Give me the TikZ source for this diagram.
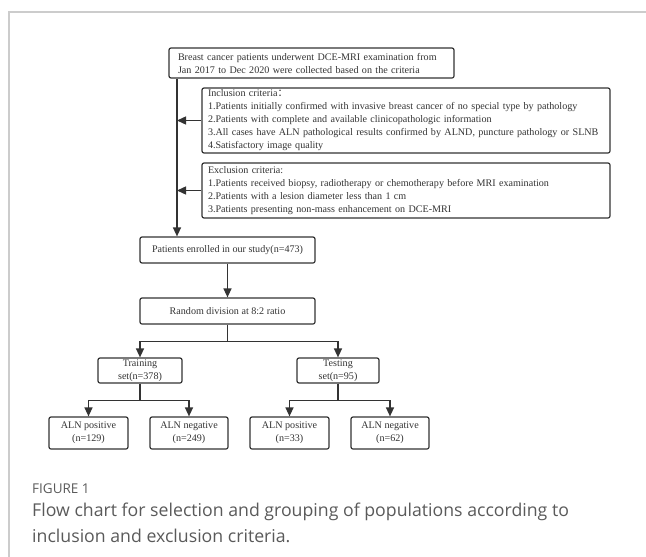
\documentclass[tikz,border=0pt]{standalone}
\usepackage{fontspec}
\setmainfont{Liberation Serif}
\newfontfamily\capfont{Open Sans}
\newfontfamily\cjk{Noto Sans CJK SC}
\usetikzlibrary{arrows.meta}
\definecolor{ink}{HTML}{333333}
\definecolor{framegray}{HTML}{CCCCCC}
\definecolor{capgray}{HTML}{5A5A5A}
\tikzset{
  box/.style={draw=ink, text=ink, line width=1.2pt, rounded corners=2pt,
    font=\fontsize{10.1}{13}\selectfont, inner sep=0pt},
  critbox/.style={box, align=left, text width=#1},
  link/.style={draw=ink, line width=1.4pt, -{Triangle[width=8pt,length=9pt]}}
}
\begin{document}
\begin{tikzpicture}[x=1pt, y=-1pt]
  \useasboundingbox (0,0) rectangle (646,557);
  \draw[framegray, line width=1.2pt] (9,557) -- (9,12) -- (646,12);
  \node[critbox=267pt, minimum width=285pt, minimum height=30pt] (src) at (311.5,63)
    {Breast cancer patients underwent DCE-MRI examination from\\
     Jan 2017 to Dec 2020 were collected based on the criteria};
  \node[critbox=396pt, minimum width=408pt, minimum height=65pt] (incl) at (406,120.5)
    {Inclusion criteria{\cjk ：}\\
     1.Patients initially confirmed with invasive breast cancer of no special type by pathology\\
     2.Patients with complete and available clinicopathologic information\\
     3.All cases have ALN pathological results confirmed by ALND, puncture pathology or SLNB\\
     4.Satisfactory image quality};
  \node[critbox=396pt, minimum width=408pt, minimum height=55pt] (excl) at (406,190.5)
    {Exclusion criteria:\\
     1.Patients received biopsy, radiotherapy or chemotherapy before MRI examination\\
     2.Patients with a lesion diameter less than 1 cm\\
     3.Patients presenting non-mass enhancement on DCE-MRI};
  \node[box, minimum width=175pt, minimum height=26pt] (enrol) at (227.5,250)
    {Patients enrolled in our study(n=473)};
  \node[box, minimum width=175pt, minimum height=26pt] (split) at (227.5,311)
    {Random division at 8:2 ratio};
  \node[box, align=center, minimum width=84pt, minimum height=25pt] (train) at (140,370.5)
    {Training\\ set(n=378)};
  \node[box, align=center, minimum width=82pt, minimum height=25pt] (test) at (338,370.5)
    {Testing\\ set(n=95)};
  \node[box, align=center, minimum width=79pt, minimum height=32pt] (trpos) at (88.5,433)
    {ALN positive\\ (n=129)};
  \node[box, align=center, minimum width=78pt, minimum height=32pt] (trneg) at (189,433)
    {ALN negative\\ (n=249)};
  \node[box, align=center, minimum width=79pt, minimum height=32pt] (tepos) at (289.5,433)
    {ALN positive\\ (n=33)};
  \node[box, align=center, minimum width=78pt, minimum height=32pt] (teneg) at (390,433)
    {ALN negative\\ (n=62)};
  \coordinate (trunk) at (177,0);
  \begin{scope}[link]
    \draw (src.south -| trunk) -- (enrol.north -| trunk);
    \draw (incl.west) -- (incl.west -| trunk);
    \draw (excl.west) -- (excl.west -| trunk);
    \draw (enrol) -- (split);
    \draw (split.south) -- ++(0,17) -| (train.north);
    \draw (split.south) -- ++(0,17) -| (test.north);
    \draw (train.south) -- ++(0,17) -| (trpos.north);
    \draw (train.south) -- ++(0,17) -| (trneg.north);
    \draw (test.south) -- ++(0,17) -| (tepos.north);
    \draw (test.south) -- ++(0,17) -| (teneg.north);
  \end{scope}
  \node[anchor=base west, inner sep=0pt, text=capgray, font=\capfont\fontsize{13.5}{16}\selectfont] (figno) at (32,493)
    {FIGURE 1};
  \node[anchor=north west, inner sep=0pt, align=left, text=capgray,
    font=\capfont\fontsize{17.7}{26}\selectfont] (caption) at (32,503)
    {Flow chart for selection and grouping of populations according to\\
     inclusion and exclusion criteria.};
\end{tikzpicture}
\end{document}
